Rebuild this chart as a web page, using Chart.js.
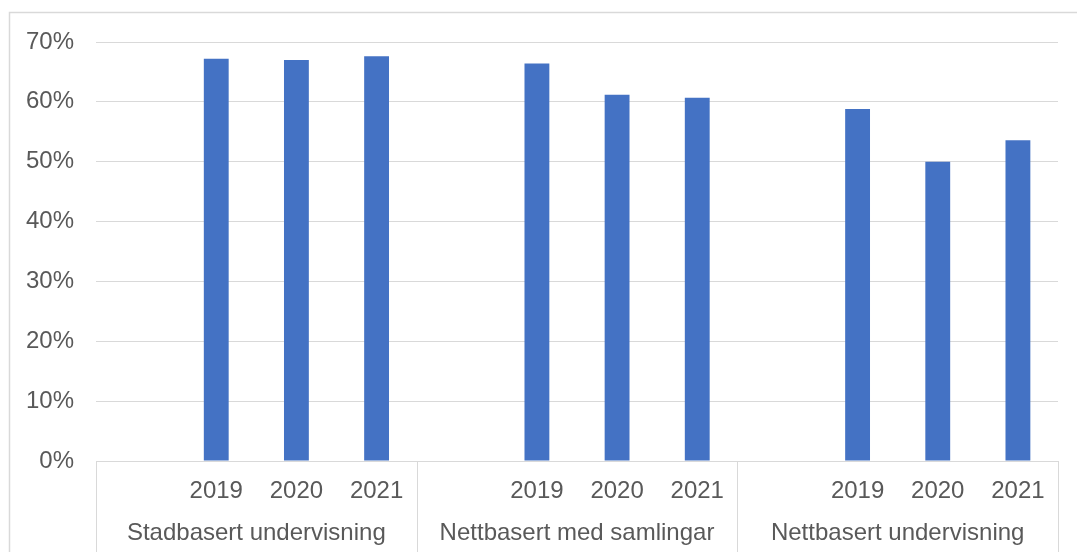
<!DOCTYPE html>
<html>
<head>
<meta charset="utf-8">
<script src="https://cdn.jsdelivr.net/npm/chart.js@4"></script>
<style>
  html, body { margin: 0; padding: 0; background: #fff; }
  #wrap { position: absolute; left: 0; top: 0; width: 1077px; height: 552px; }
</style>
</head>
<body>
<div id="wrap"><canvas id="myChart" width="1077" height="552"></canvas></div>
<script>
// groups on the lower axis row, years on the upper row
const groups = ['Stadbasert undervisning', 'Nettbasert med samlingar', 'Nettbasert undervisning'];
const years = ['2019', '2020', '2021'];

// share per group, one value per year
const stadbasert = [0.672, 0.670, 0.676];
const nettSamlingar = [0.664, 0.612, 0.607];
const nettUndervisning = [0.588, 0.500, 0.536];

const yTicks = [0, 0.1, 0.2, 0.3, 0.4, 0.5, 0.6, 0.7];

// every group starts with one empty slot, like in the original sheet
var labels = [];
var values = [];
[stadbasert, nettSamlingar, nettUndervisning].forEach(function (groupValues) {
    labels.push('');
    values.push(null);
    years.forEach(function (y, i) {
        labels.push(y);
        values.push(groupValues[i]);
    });
});

const textColor = '#595959';
const lineColor = '#d9d9d9';
const fontFamily = '"Liberation Sans", Arial, sans-serif';

// frame, group separators and group names under the years
const groupAxis = {
    id: 'groupAxis',
    beforeDraw(chart) {
        var ctx = chart.ctx;
        ctx.save();
        ctx.strokeStyle = lineColor;
        ctx.lineWidth = 1.5;
        ctx.strokeRect(9.5, 12.5, 1200, 700);
        ctx.restore();
    },
    afterDraw(chart) {
        var ctx = chart.ctx;
        var x = chart.scales.x;
        var area = chart.chartArea;
        var per = years.length + 1;
        ctx.save();
        ctx.strokeStyle = lineColor;
        ctx.lineWidth = 1;
        for (var g = 0; g <= groups.length; g++) {
            var px;
            if (g === 0) px = area.left;
            else if (g === groups.length) px = area.right;
            else px = (x.getPixelForValue(g * per - 1) + x.getPixelForValue(g * per)) / 2;
            px = Math.round(px) + 0.5;
            ctx.beginPath();
            ctx.moveTo(px, area.bottom);
            ctx.lineTo(px, chart.height);
            ctx.stroke();
        }
        ctx.fillStyle = textColor;
        ctx.font = '24px ' + fontFamily;
        ctx.textAlign = 'center';
        ctx.textBaseline = 'alphabetic';
        groups.forEach(function (name, g) {
            var c = (x.getPixelForValue(g * per) + x.getPixelForValue(g * per + per - 1)) / 2;
            ctx.fillText(name, c, 540);
        });
        ctx.restore();
    }
};

var ctx = document.getElementById('myChart').getContext('2d');
var myChart = new Chart(ctx, {
    type: 'bar',
    data: {
        labels: labels,
        datasets: [{
            data: values,
            backgroundColor: '#4472C4',
            borderWidth: 0,
            barPercentage: 0.62,
            categoryPercentage: 0.5
        }]
    },
    options: {
        responsive: false,
        animation: false,
        layout: { padding: { left: 0, right: 19, top: 42, bottom: 0 } },
        plugins: {
            legend: { display: false },
            tooltip: { enabled: false }
        },
        scales: {
            x: {
                grid: { display: false },
                border: { display: true, color: lineColor, width: 1 },
                ticks: {
                    color: textColor,
                    font: { family: fontFamily, size: 24 },
                    padding: 8,
                    autoSkip: false,
                    maxRotation: 0
                },
                afterFit: function (s) { s.height = 91; }
            },
            y: {
                min: 0,
                max: 0.7,
                afterBuildTicks: function (s) { s.ticks = yTicks.map(function (v) { return { value: v }; }); },
                grid: { color: lineColor, lineWidth: 1, drawTicks: false },
                border: { display: false },
                ticks: {
                    color: textColor,
                    font: { family: fontFamily, size: 24 },
                    padding: 22,
                    callback: function (v) { return Math.round(v * 100) + '%'; }
                },
                afterFit: function (s) { s.width = 96; }
            }
        }
    },
    plugins: [groupAxis]
});
</script>
</body>
</html>
